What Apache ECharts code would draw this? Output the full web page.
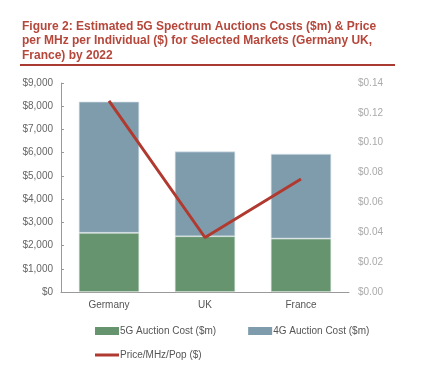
<!DOCTYPE html>
<html>
<head>
<meta charset="utf-8">
<script src="https://cdn.jsdelivr.net/npm/echarts@6/dist/echarts.min.js"></script>
<style>
html,body{margin:0;padding:0;background:#fff;}
#chart{width:423px;height:383px;}
</style>
</head>
<body>
<div id="chart"></div>
<script>
const categories = ['Germany', 'UK', 'France'];
const cost5G = [2550, 2400, 2300];
const cost4G = [5650, 3650, 3650];
const pricePerMHzPop = [0.128, 0.0365, 0.0757];
const leftTicks = [0, 9000, 1000];
const rightTicks = [0, 0.14, 0.02];
const titleText = 'Figure 2: Estimated 5G Spectrum Auctions Costs ($m) & Price\nper MHz per Individual ($) for Selected Markets (Germany UK,\nFrance) by 2022';

const chart = echarts.init(document.getElementById('chart'));
const font = 'Liberation Sans, Arial, sans-serif';
chart.setOption({
  animation: false,
  textStyle: { fontFamily: font },
  title: {
    text: titleText,
    left: 17,
    top: 14,
    textStyle: { fontFamily: font, fontSize: 12, fontWeight: 'bold', color: '#b5473b', lineHeight: 14.5 }
  },
  graphic: [{
    type: 'line',
    shape: { x1: 20, y1: 65, x2: 395, y2: 65 },
    style: { stroke: '#a83a32', lineWidth: 2 }
  }],
  grid: { left: 61, right: 74, top: 83, bottom: 91 },
  legend: [{
    data: ['5G Auction Cost ($m)', '4G Auction Cost ($m)'],
    left: 95, top: 326, padding: 0,
    itemWidth: 24, itemHeight: 8, itemGap: 32,
    icon: 'rect',
    itemStyle: { borderWidth: 0 },
    textStyle: { fontSize: 10, color: '#555', padding: [0, 0, 0, -4] }
  }, {
    data: ['Price/MHz/Pop ($)'],
    left: 95, top: 350, padding: 0,
    itemWidth: 24, itemHeight: 3,
    icon: 'rect',
    itemStyle: { borderWidth: 0 },
    textStyle: { fontSize: 10, color: '#555', padding: [0, 0, 0, -4] }
  }],
  xAxis: {
    type: 'category',
    data: categories,
    axisLine: { lineStyle: { color: '#999' } },
    axisTick: { inside: true, length: 3, lineStyle: { color: '#999' } },
    axisLabel: { fontSize: 10, color: '#555', margin: 8 }
  },
  yAxis: [{
    type: 'value',
    min: leftTicks[0], max: leftTicks[1], interval: leftTicks[2],
    axisLine: { show: true, lineStyle: { color: '#999' } },
    axisTick: { show: true, inside: true, length: 3, lineStyle: { color: '#999' } },
    splitLine: { show: false },
    axisLabel: {
      fontSize: 10, color: '#666', margin: 8,
      formatter: v => '$' + v.toLocaleString('en-US')
    }
  }, {
    type: 'value',
    min: rightTicks[0], max: rightTicks[1], interval: rightTicks[2],
    position: 'right',
    axisLine: { show: false },
    axisTick: { show: false },
    splitLine: { show: false },
    axisLabel: {
      fontSize: 10, color: '#aaa', margin: 9,
      formatter: v => '$' + v.toFixed(2)
    }
  }],
  series: [{
    name: '5G Auction Cost ($m)',
    type: 'bar',
    stack: 'cost',
    data: cost5G,
    barCategoryGap: '37%',
    itemStyle: { color: '#66946f', borderColor: '#dfe8e2', borderWidth: 0.7 }
  }, {
    name: '4G Auction Cost ($m)',
    type: 'bar',
    stack: 'cost',
    data: cost4G,
    itemStyle: { color: '#7f9cac', borderColor: '#dde6ec', borderWidth: 0.7 }
  }, {
    name: 'Price/MHz/Pop ($)',
    type: 'line',
    yAxisIndex: 1,
    data: pricePerMHzPop,
    symbol: 'none',
    itemStyle: { color: '#b03a30' },
    lineStyle: { color: '#b03a30', width: 3 }
  }]
});
</script>
</body>
</html>
